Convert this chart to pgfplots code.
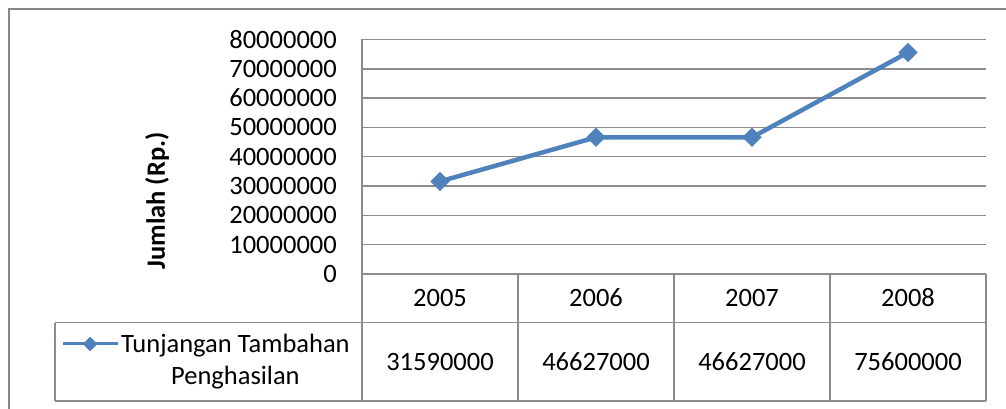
\documentclass[border=0pt]{standalone}
\usepackage{fontspec}
\setmainfont{Carlito}
\usepackage{pgfplots}
\pgfplotsset{compat=1.18}

\definecolor{seriesblue}{HTML}{4F81BD}
\definecolor{gridgray}{HTML}{8C8C8C}
\definecolor{framegray}{HTML}{868686}

\newcommand{\chartfont}{\fontsize{26.5bp}{32bp}\selectfont}

\begin{document}
\begin{tikzpicture}[x=1bp,y=1bp]
  \useasboundingbox (0,0) rectangle (1006,408);
  \clip (0,0) rectangle (1006,408);

  % outer chart frame
  \draw[framegray, line width=2bp] (9,-10) -- (9,399) -- (1020,399);

  \begin{axis}[
    at={(362bp,134bp)}, anchor=south west,
    scale only axis, width=624bp, height=234.5bp,
    xmin=0.5, xmax=4.5, ymin=0, ymax=80000000,
    axis line style={draw=none},
    xtick=\empty,
    ytick={0,10000000,20000000,30000000,40000000,50000000,60000000,70000000,80000000},
    major tick length=0pt,
    ymajorgrids,
    grid style={gridgray, line width=1.4bp},
    scaled y ticks=false,
    yticklabel style={
      /pgf/number format/fixed,
      /pgf/number format/precision=0,
      /pgf/number format/1000 sep={},
      /pgf/number format/assume math mode=true,
      font=\chartfont, inner sep=0pt, xshift=-25bp},
    clip=false,
    legend style={
      at={(-0.4824,-0.3667)}, anchor=west,
      draw=none, fill=none, inner sep=0pt,
      column sep=2bp,
      font=\chartfont,
      cells={align=center},
      nodes={inner sep=0pt}},
    legend image code/.code={
      \draw[mark repeat=2, mark phase=2, #1, line width=3bp, mark size=4.6bp]
        plot coordinates {(0bp,16bp) (27.5bp,16bp) (55bp,16bp)};},
  ]
    \addplot[color=seriesblue, line width=4.5bp,
      mark=square*, mark size=6.3bp,
      mark options={rotate=45, line width=1bp, fill=seriesblue, solid}]
      coordinates {(1,31590000) (2,46627000) (3,46627000) (4,75600000)};
    \addlegendentry{Tunjangan Tambahan\\Penghasilan}
  \end{axis}

  % axis title
  \node[rotate=90, font=\chartfont\bfseries] at (157,207) {Jumlah (Rp.)};

  % data table grid
  \begin{scope}[gridgray, line width=1.4bp]
    \draw (362,368.5) -- (362,7);
    \draw (362,134) -- (986,134);
    \draw (55,85.5) -- (986,85.5);
    \draw (55,7) -- (986,7);
    \draw (55,85.5) -- (55,7);
    \foreach \xx in {518,674,830} \draw (\xx,134) -- (\xx,7);
    \draw (986,134) -- (986,7);
  \end{scope}

  % data table text
  \begin{scope}[font=\chartfont]
    \node at (440,110) {2005};
    \node at (596,110) {2006};
    \node at (752,110) {2007};
    \node at (908,110) {2008};
    \node at (440,46) {31590000};
    \node at (596,46) {46627000};
    \node at (752,46) {46627000};
    \node at (908,46) {75600000};
  \end{scope}
\end{tikzpicture}
\end{document}
